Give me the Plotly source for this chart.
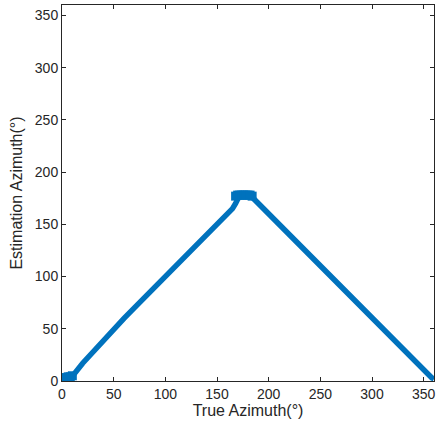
import plotly.graph_objects as go

true_az = [0, 2, 4, 6, 8, 10, 12, 20, 30, 40, 50, 60, 70, 80, 90, 100, 110, 120,
           130, 140, 150, 160, 165, 168, 170, 172, 175, 178, 180, 182, 185, 188,
           190, 200, 210, 220, 230, 240, 250, 260, 270, 280, 290, 300, 310, 320,
           330, 340, 350, 355, 358, 360]
est_az = [3, 3, 3, 4, 4, 5, 7, 17, 28, 39, 49, 60, 70, 80, 90, 100, 110, 120,
          130, 140, 150, 160, 165, 170, 175, 178, 178, 178, 178, 177, 175, 172,
          170, 160, 150, 140, 130, 120, 110, 100, 90, 80, 70, 60, 50, 40,
          30, 20, 10, 5, 3, 2]

# clustered (noisy) estimates drawn as markers
cluster_true = [0, 2, 4, 6, 8, 10, 168, 170, 172, 174, 176, 178, 180, 182, 184]
cluster_est = [3, 3, 3, 4, 4, 5, 177, 178, 178, 178, 178, 178, 178, 178, 177]

x_ticks = [0, 50, 100, 150, 200, 250, 300, 350]
y_ticks = [0, 50, 100, 150, 200, 250, 300, 350]

FONT = "Liberation Sans, Arial, Helvetica"
BLUE = "#0072BD"

fig = go.Figure()
fig.add_trace(go.Scatter(
    x=true_az, y=est_az, mode="lines",
    line=dict(color=BLUE, width=5.5),
    showlegend=False, cliponaxis=True, hoverinfo="skip",
))
fig.add_trace(go.Scatter(
    x=cluster_true, y=cluster_est, mode="markers",
    marker=dict(color=BLUE, size=9, symbol="square"),
    showlegend=False, cliponaxis=True, hoverinfo="skip",
))

axis_common = dict(
    showgrid=False, zeroline=False, showline=True, mirror="ticks",
    linecolor="#262626", linewidth=1, ticks="inside", ticklen=4,
    tickcolor="#262626", automargin=False,
    tickfont=dict(family=FONT, size=14, color="#262626"),
)
fig.update_xaxes(range=[0, 360], tickvals=x_ticks,
                 title=dict(text="True Azimuth(\u00b0)", font=dict(family=FONT, size=16, color="#262626"), standoff=2),
                 **axis_common)
fig.update_yaxes(range=[0, 360], tickvals=y_ticks,
                 title=dict(text="Estimation Azimuth(\u00b0)", font=dict(family=FONT, size=16, color="#262626"), standoff=8),
                 **axis_common)
fig.update_layout(
    width=438, height=429,
    margin=dict(l=62, r=4, t=5, b=48),
    paper_bgcolor="white", plot_bgcolor="white",
)
fig.write_html("out.html", config={"displayModeBar": False},
               post_script="document.body.style.margin='0';document.body.style.padding='0';")
